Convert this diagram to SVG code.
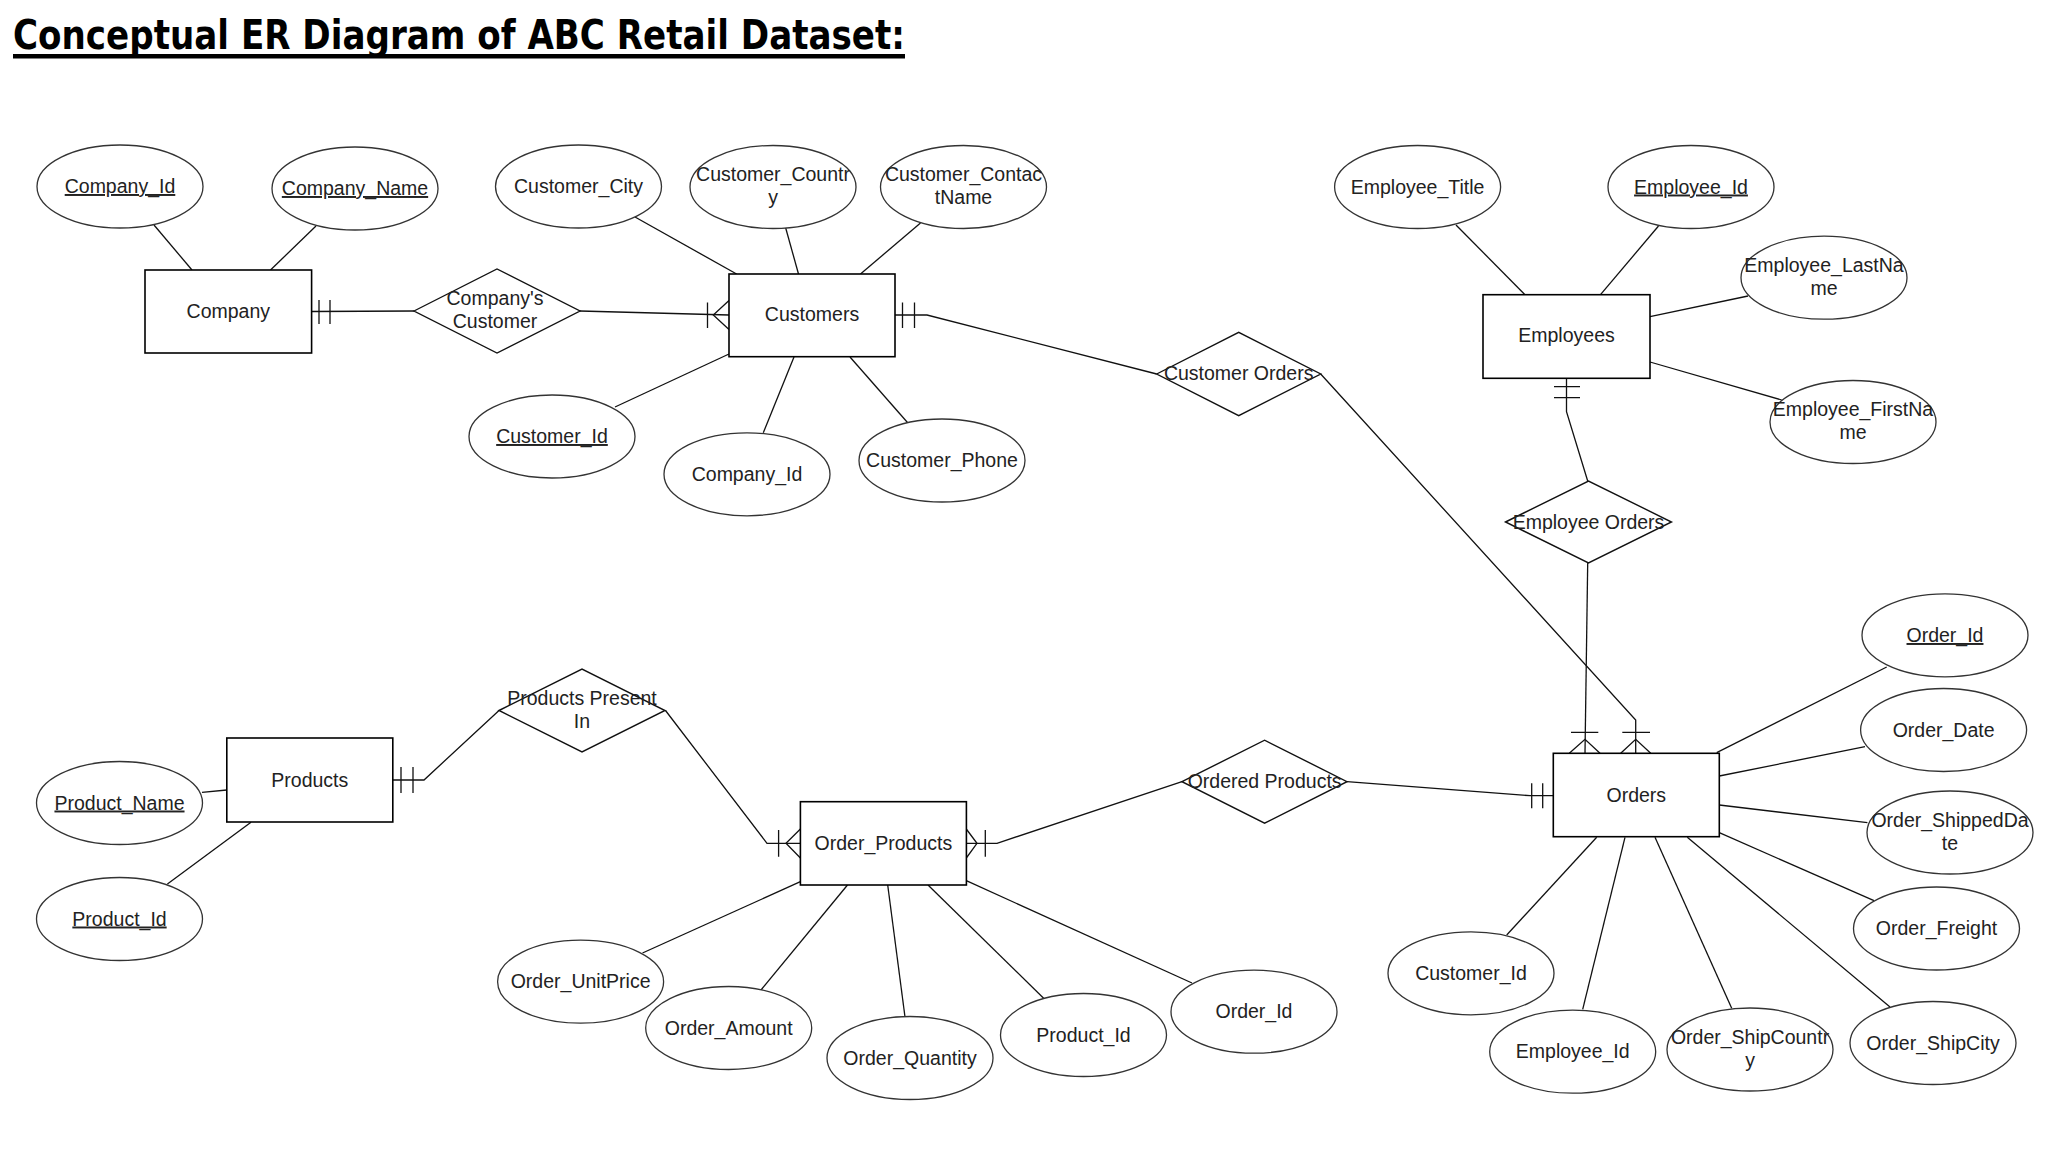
<svg xmlns="http://www.w3.org/2000/svg" width="2068" height="1166" viewBox="0 0 2068 1166">
<style>
.e{fill:#fff;stroke:#333;stroke-width:1.3}
.r{fill:#fff;stroke:#000;stroke-width:1.6}
.d{fill:#fff;stroke:#111;stroke-width:1.4}
.c{fill:none;stroke:#111;stroke-width:1.3}
.t{font-family:"Liberation Sans",Arial,sans-serif;font-size:19.5px;fill:#222;text-anchor:middle}
.u{text-decoration:underline}
.title{font-family:"DejaVu Sans Condensed","DejaVu Sans",sans-serif;font-weight:bold;font-size:40px;fill:#000}
</style>
<rect width="2068" height="1166" fill="#fff"/>
<g id="title">
<text class="title" x="13" y="49" textLength="892" lengthAdjust="spacingAndGlyphs">Conceptual ER Diagram of ABC Retail Dataset:</text>
<rect x="13" y="54" width="892" height="4.5" fill="#000"/>
</g>
<g id="connectors" class="c">
<path d="M154,225 L192,270"/>
<path d="M316,226 L270.5,270"/>
<path d="M311.6,311.5 L414,311"/>
<path d="M319,300 V324 M330,300 V324"/>
<path d="M580,311 L729,315"/>
<path d="M707.5,302.5 V328 M729,300.5 L713.3,315 L729,329.5"/>
<path d="M635,217 L736.6,274"/>
<path d="M785.7,228 L798.5,274"/>
<path d="M920.5,223 L860.5,274"/>
<path d="M615,407 L729,354"/>
<path d="M763.3,432.7 L794,357"/>
<path d="M907.7,422.7 L850,357"/>
<path d="M895,315 H927 L1156.7,374"/>
<path d="M902.5,302.5 V328 M914.5,302.5 V328"/>
<path d="M1320.7,374 L1635.7,720 V753.3"/>
<path d="M1622.3,732.3 H1650 M1620.7,753.3 L1635.7,739.3 L1650.7,753.3"/>
<path d="M1456,225 L1525,294.7"/>
<path d="M1658.5,226 L1600.5,294.7"/>
<path d="M1748,296 L1650,316.7"/>
<path d="M1781.7,400 L1650,362"/>
<path d="M1566.5,378.3 V411.7 L1587.7,481"/>
<path d="M1554,386.7 H1580 M1554,397.7 H1580"/>
<path d="M1587.7,563 L1585,753.3"/>
<path d="M1571,732.3 H1598.3 M1569.3,753.3 L1585,739.3 L1600,753.3"/>
<path d="M1716.7,752.7 L1886.7,667"/>
<path d="M1719.3,776 L1865,746.7"/>
<path d="M1719.3,805 L1867.4,822.7"/>
<path d="M1719.3,832.7 L1874,900.7"/>
<path d="M1687.3,837.3 L1890,1007"/>
<path d="M1655,837.3 L1731.7,1008.3"/>
<path d="M1625,837.3 L1582.7,1009.3"/>
<path d="M1596.7,837.3 L1506.7,935"/>
<path d="M1347,781.7 L1530,795.7 H1553.3"/>
<path d="M1531.7,783.3 V808.3 M1542.7,783.3 V808.3"/>
<path d="M966.3,843.3 H997 L1182,781.7"/>
<path d="M985.3,830 V856.7 M966.3,829 L977,843.3 L966.3,858"/>
<path d="M665.5,710.5 L767,843.3 H800.4"/>
<path d="M778.6,830 V856.7 M800.4,829 L786,843.3 L800.4,858"/>
<path d="M393,780 H424 L499,710.5"/>
<path d="M401,767 V793 M413,767 V793"/>
<path d="M202,792.3 L226.8,790"/>
<path d="M167.4,884 L251,822.3"/>
<path d="M642.5,953 L800.4,881.7"/>
<path d="M761,990 L847.5,885"/>
<path d="M905,1017 L887.7,885"/>
<path d="M1044.4,999 L928,885"/>
<path d="M1192,983 L966.3,880.7"/>
</g>
<g id="company"><rect class="r" x="145" y="270" width="166.6" height="83"/><text class="t" x="228.3" y="318">Company</text></g>
<g id="company_id"><ellipse class="e" cx="120" cy="186.5" rx="83" ry="41.5"/><text class="t u" x="120" y="193">Company_Id</text></g>
<g id="company_name"><ellipse class="e" cx="355" cy="188.5" rx="83" ry="41.5"/><text class="t u" x="355" y="195">Company_Name</text></g>
<g id="companys_customer"><polygon class="d" points="414,311 497,269 580,311 497,353"/><text class="t" x="495" y="305">Company's</text><text class="t" x="495" y="328">Customer</text></g>
<g id="customers"><rect class="r" x="729" y="274" width="166" height="82.7"/><text class="t" x="812" y="321">Customers</text></g>
<g id="customer_city"><ellipse class="e" cx="578.5" cy="186.5" rx="83" ry="41.5"/><text class="t" x="578.5" y="193">Customer_City</text></g>
<g id="customer_country"><ellipse class="e" cx="773" cy="187" rx="83" ry="41.5"/><text class="t" x="773" y="181">Customer_Countr</text><text class="t" x="773" y="204">y</text></g>
<g id="customer_contactname"><ellipse class="e" cx="963.5" cy="187" rx="83" ry="41.5"/><text class="t" x="963.5" y="181">Customer_Contac</text><text class="t" x="963.5" y="204">tName</text></g>
<g id="customer_id"><ellipse class="e" cx="552" cy="436.5" rx="83" ry="41.5"/><text class="t u" x="552" y="443">Customer_Id</text></g>
<g id="customer_company_id"><ellipse class="e" cx="747" cy="474.3" rx="83" ry="41.5"/><text class="t" x="747" y="481">Company_Id</text></g>
<g id="customer_phone"><ellipse class="e" cx="942" cy="460.5" rx="83" ry="41.5"/><text class="t" x="942" y="467">Customer_Phone</text></g>
<g id="customer_orders"><polygon class="d" points="1156.7,374 1238.7,332.3 1320.7,374 1238.7,415.7"/><text class="t" x="1238.7" y="380">Customer Orders</text></g>
<g id="employees"><rect class="r" x="1483" y="294.7" width="167" height="83.6"/><text class="t" x="1566.5" y="342">Employees</text></g>
<g id="employee_title"><ellipse class="e" cx="1417.6" cy="187" rx="83" ry="41.5"/><text class="t" x="1417.6" y="193.5">Employee_Title</text></g>
<g id="employee_id"><ellipse class="e" cx="1691" cy="187" rx="83" ry="41.5"/><text class="t u" x="1691" y="193.5">Employee_Id</text></g>
<g id="employee_lastname"><ellipse class="e" cx="1824" cy="277.7" rx="83" ry="41.5"/><text class="t" x="1824" y="271.5">Employee_LastNa</text><text class="t" x="1824" y="295">me</text></g>
<g id="employee_firstname"><ellipse class="e" cx="1853" cy="422" rx="83" ry="41.5"/><text class="t" x="1853" y="416">Employee_FirstNa</text><text class="t" x="1853" y="439">me</text></g>
<g id="employee_orders"><polygon class="d" points="1505.5,522 1588.5,481 1671.5,522 1588.5,563"/><text class="t" x="1588.5" y="528.5">Employee Orders</text></g>
<g id="orders"><rect class="r" x="1553.3" y="753.3" width="166" height="83.4"/><text class="t" x="1636.3" y="801.5">Orders</text></g>
<g id="order_id"><ellipse class="e" cx="1945" cy="635.3" rx="83" ry="41.5"/><text class="t u" x="1945" y="642">Order_Id</text></g>
<g id="order_date"><ellipse class="e" cx="1943.6" cy="730" rx="83" ry="41.5"/><text class="t" x="1943.6" y="736.5">Order_Date</text></g>
<g id="order_shippeddate"><ellipse class="e" cx="1950" cy="832.5" rx="83" ry="41.5"/><text class="t" x="1950" y="826.5">Order_ShippedDa</text><text class="t" x="1950" y="849.5">te</text></g>
<g id="order_freight"><ellipse class="e" cx="1936.5" cy="928.5" rx="83" ry="41.5"/><text class="t" x="1936.5" y="935">Order_Freight</text></g>
<g id="order_shipcity"><ellipse class="e" cx="1933" cy="1043" rx="83" ry="41.5"/><text class="t" x="1933" y="1049.5">Order_ShipCity</text></g>
<g id="order_shipcountry"><ellipse class="e" cx="1750" cy="1049.5" rx="83" ry="41.5"/><text class="t" x="1750" y="1043.5">Order_ShipCountr</text><text class="t" x="1750" y="1066.5">y</text></g>
<g id="orders_employee_id"><ellipse class="e" cx="1572.7" cy="1051.7" rx="83" ry="41.5"/><text class="t" x="1572.7" y="1058">Employee_Id</text></g>
<g id="orders_customer_id"><ellipse class="e" cx="1471" cy="973.3" rx="83" ry="41.5"/><text class="t" x="1471" y="980">Customer_Id</text></g>
<g id="ordered_products"><polygon class="d" points="1182,781.7 1264.6,740.2 1347,781.7 1264.6,823.2"/><text class="t" x="1264.6" y="788">Ordered Products</text></g>
<g id="order_products"><rect class="r" x="800.4" y="801.7" width="166" height="83.3"/><text class="t" x="883.4" y="850">Order_Products</text></g>
<g id="order_unitprice"><ellipse class="e" cx="580.6" cy="981.7" rx="83" ry="41.5"/><text class="t" x="580.6" y="988">Order_UnitPrice</text></g>
<g id="order_amount"><ellipse class="e" cx="728.7" cy="1028" rx="83" ry="41.5"/><text class="t" x="728.7" y="1034.5">Order_Amount</text></g>
<g id="order_quantity"><ellipse class="e" cx="910" cy="1058" rx="83" ry="41.5"/><text class="t" x="910" y="1064.5">Order_Quantity</text></g>
<g id="op_product_id"><ellipse class="e" cx="1083.5" cy="1035" rx="83" ry="41.5"/><text class="t" x="1083.5" y="1041.5">Product_Id</text></g>
<g id="op_order_id"><ellipse class="e" cx="1254" cy="1011.7" rx="83" ry="41.5"/><text class="t" x="1254" y="1018">Order_Id</text></g>
<g id="products_present_in"><polygon class="d" points="499,710.5 582,669 665,710.5 582,752"/><text class="t" x="582" y="705">Products Present</text><text class="t" x="582" y="727.5">In</text></g>
<g id="products"><rect class="r" x="226.8" y="738" width="166" height="84"/><text class="t" x="309.8" y="786.5">Products</text></g>
<g id="product_name"><ellipse class="e" cx="119.5" cy="803" rx="83" ry="41.5"/><text class="t u" x="119.5" y="809.5">Product_Name</text></g>
<g id="product_id"><ellipse class="e" cx="119.5" cy="919" rx="83" ry="41.5"/><text class="t u" x="119.5" y="925.5">Product_Id</text></g>
</svg>
